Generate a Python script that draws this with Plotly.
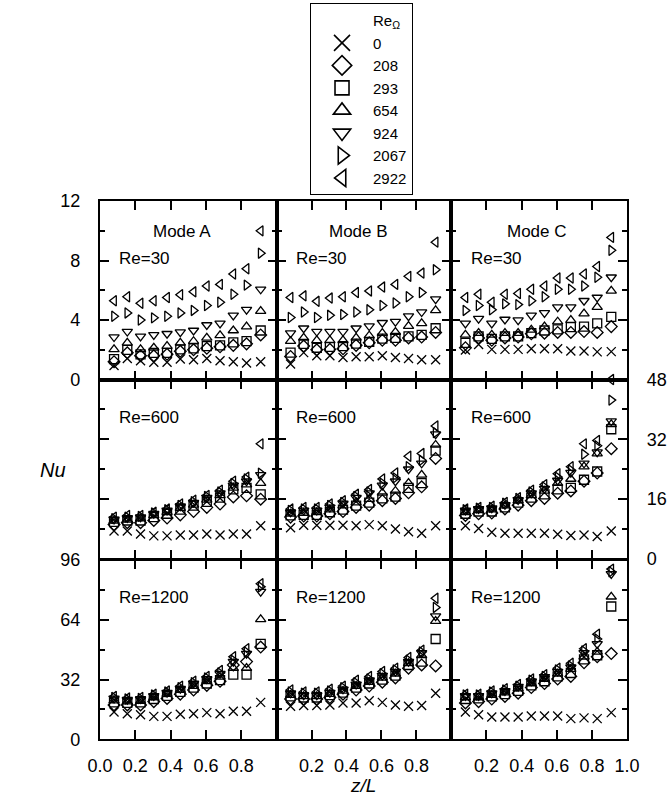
import plotly.graph_objects as go

W, H = 667, 803

# axial stations along the heated section
Z_OVER_L = [0.08, 0.155, 0.23, 0.305, 0.38, 0.455, 0.53, 0.605, 0.68, 0.755, 0.83, 0.91]

# rotational Reynolds numbers (series order used in every Nu table below)
RE_OMEGA = ["0", "208", "293", "654", "924", "2067", "2922"]

# Nusselt number, Mode A / B / C, Re = 30
NU_A_RE30 = [
    [0.94, 1.42, 1.27, 1.16, 1.16, 1.38, 1.33, 1.42, 1.27, 1.2, 1.11, 1.2],
    [1.2, 1.8, 1.6, 1.6, 1.7, 1.9, 2.0, 2.1, 2.2, 2.3, 2.4, 3.0],
    [1.38, 2.0, 1.7, 1.8, 1.8, 2.03, 2.1, 2.25, 2.3, 2.5, 2.58, 3.3],
    [2.03, 2.47, 2.03, 2.14, 2.25, 2.47, 2.58, 2.8, 2.97, 3.3, 3.56, 4.6],
    [2.86, 3.23, 2.9, 3.0, 3.08, 3.19, 3.3, 3.67, 3.78, 4.32, 4.7, 6.07],
    [4.26, 4.48, 4.0, 4.15, 4.26, 4.48, 4.65, 4.98, 5.2, 5.74, 6.35, 8.5],
    [5.3, 5.57, 5.13, 5.3, 5.52, 5.7, 5.9, 6.29, 6.4, 7.1, 7.45, 10.0],
]
NU_B_RE30 = [
    [1.05, 1.81, 1.6, 1.6, 1.48, 1.53, 1.53, 1.6, 1.48, 1.42, 1.33, 1.33],
    [1.55, 2.25, 2.0, 2.03, 2.07, 2.3, 2.47, 2.64, 2.64, 2.8, 2.86, 3.17],
    [1.81, 2.4, 2.14, 2.2, 2.25, 2.42, 2.53, 2.75, 2.8, 2.9, 3.0, 3.45],
    [2.58, 2.8, 2.64, 2.64, 2.64, 2.8, 2.95, 3.12, 3.19, 3.6, 3.78, 4.65],
    [3.12, 3.45, 3.23, 3.23, 3.23, 3.45, 3.6, 3.82, 3.89, 4.26, 4.54, 5.41],
    [4.17, 4.54, 4.17, 4.32, 4.37, 4.54, 4.69, 4.98, 5.15, 5.57, 5.85, 7.38],
    [5.52, 5.63, 5.26, 5.48, 5.57, 5.85, 5.96, 6.22, 6.4, 6.94, 7.16, 9.24],
]
NU_C_RE30 = [
    [1.99, 2.36, 2.03, 2.03, 2.03, 2.07, 2.07, 2.07, 1.92, 1.92, 1.86, 1.88],
    [2.14, 2.8, 2.64, 2.8, 2.86, 3.08, 3.12, 3.17, 3.17, 3.23, 3.17, 3.56],
    [2.47, 2.9, 2.73, 2.9, 2.9, 3.12, 3.3, 3.38, 3.52, 3.56, 3.78, 4.21],
    [3.01, 3.12, 3.01, 3.12, 3.12, 3.34, 3.56, 3.89, 4.0, 4.43, 4.87, 5.96],
    [3.78, 4.1, 3.78, 4.04, 4.0, 4.32, 4.48, 4.87, 4.87, 5.3, 5.52, 6.88],
    [4.65, 4.98, 4.69, 5.09, 5.04, 5.3, 5.57, 6.07, 6.07, 6.29, 6.88, 8.69],
    [5.52, 5.74, 5.2, 5.74, 5.79, 6.07, 6.29, 6.83, 6.83, 7.1, 7.6, 9.56],
]

# Nusselt number, Mode A / B / C, Re = 600
NU_A_RE600 = [
    [7.48, 7.48, 6.7, 6.17, 6.17, 6.43, 6.43, 6.7, 6.43, 6.7, 6.7, 8.87],
    [9.2, 9.7, 9.7, 10.3, 10.96, 11.8, 12.7, 13.8, 14.7, 16.6, 16.9, 16.0],
    [9.9, 10.3, 10.3, 11.2, 12.1, 13.2, 14.3, 15.3, 16.4, 18.6, 19.0, 17.3],
    [10.2, 10.5, 10.8, 11.65, 12.5, 13.6, 14.5, 15.8, 17.0, 19.0, 19.9, 20.3],
    [10.6, 10.96, 11.2, 12.1, 13.0, 14.1, 15.1, 16.4, 17.6, 19.7, 20.8, 22.5],
    [10.8, 11.2, 11.4, 12.3, 13.2, 14.3, 15.3, 16.7, 17.9, 20.2, 21.4, 22.96],
    [11.2, 11.65, 11.65, 12.5, 13.4, 14.7, 15.7, 17.0, 18.4, 20.8, 21.9, 30.8],
]
NU_B_RE600 = [
    [8.35, 9.04, 9.04, 9.04, 9.04, 8.87, 9.2, 8.87, 8.0, 7.3, 6.87, 8.87],
    [11.2, 11.5, 11.5, 12.1, 12.7, 13.8, 14.4, 15.6, 16.2, 17.7, 19.3, 26.9],
    [11.65, 11.8, 11.8, 12.5, 13.2, 14.3, 15.1, 16.2, 16.7, 19.0, 20.3, 29.0],
    [12.1, 12.3, 12.5, 13.2, 14.3, 15.1, 16.0, 17.7, 18.2, 20.3, 22.5, 30.5],
    [12.5, 13.0, 13.0, 13.8, 14.9, 16.4, 17.6, 19.7, 20.8, 24.0, 25.6, 33.4],
    [13.0, 13.4, 13.4, 14.3, 15.1, 16.7, 17.9, 20.3, 21.7, 24.7, 26.4, 33.8],
    [13.4, 13.8, 13.8, 14.7, 15.6, 17.3, 18.6, 21.4, 23.0, 27.5, 28.2, 35.6],
]
NU_C_RE600 = [
    [8.87, 8.17, 7.13, 6.87, 6.87, 6.87, 6.87, 6.6, 6.26, 6.43, 6.0, 7.48],
    [11.65, 12.1, 12.3, 13.4, 14.4, 15.6, 16.2, 17.6, 18.2, 20.8, 23.0, 29.5],
    [12.1, 12.7, 12.7, 13.8, 15.1, 16.4, 17.3, 18.6, 19.0, 21.2, 23.4, 34.7],
    [12.5, 13.0, 13.2, 14.3, 15.6, 17.0, 18.2, 20.3, 21.4, 24.7, 28.2, 36.0],
    [13.0, 13.4, 13.6, 14.5, 15.8, 17.6, 18.8, 21.0, 23.1, 25.6, 28.6, 36.9],
    [13.2, 13.6, 13.8, 14.9, 16.2, 17.9, 19.3, 21.9, 23.8, 28.0, 30.3, 42.5],
    [13.4, 13.8, 14.1, 15.1, 16.4, 18.4, 19.9, 22.8, 24.7, 30.8, 31.7, 48.0],
]

# Nusselt number, Mode A / B / C, Re = 1200
NU_A_RE1200 = [
    [14.6, 13.7, 13.2, 12.3, 12.3, 13.4, 13.7, 14.3, 13.7, 15.0, 15.0, 19.8],
    [18.4, 18.4, 18.4, 20.2, 21.9, 24.2, 26.4, 28.9, 31.1, 39.8, 41.6, 49.4],
    [19.8, 19.5, 19.8, 21.6, 23.3, 25.4, 27.7, 29.9, 31.7, 34.6, 34.6, 51.1],
    [20.7, 20.2, 20.5, 22.4, 24.2, 26.4, 28.5, 31.1, 33.4, 38.1, 38.1, 64.2],
    [21.9, 21.2, 21.6, 23.3, 25.0, 27.1, 29.9, 32.3, 35.1, 41.6, 45.9, 79.0],
    [22.4, 21.6, 21.9, 23.7, 25.4, 27.7, 30.3, 32.9, 35.5, 42.4, 46.8, 81.6],
    [23.0, 22.1, 22.4, 24.2, 25.9, 28.5, 31.1, 33.7, 36.9, 44.2, 48.5, 83.3],
]
NU_B_RE1200 = [
    [17.7, 18.1, 18.1, 18.4, 19.5, 19.5, 20.7, 19.8, 18.4, 17.7, 18.1, 24.7],
    [21.6, 21.6, 21.6, 22.4, 24.2, 26.4, 28.5, 30.6, 32.9, 38.1, 39.8, 39.3],
    [23.0, 22.4, 22.4, 23.7, 25.0, 27.7, 29.9, 32.0, 34.1, 39.8, 41.6, 53.7],
    [23.7, 23.0, 23.0, 24.2, 25.9, 28.5, 30.6, 32.9, 35.1, 40.7, 45.0, 63.3],
    [24.7, 23.7, 23.7, 25.0, 26.8, 29.4, 31.7, 34.1, 36.3, 41.6, 46.3, 65.9],
    [25.4, 24.7, 24.7, 25.9, 27.7, 30.3, 32.3, 35.1, 37.2, 42.4, 46.8, 70.6],
    [26.4, 25.4, 25.4, 26.8, 28.5, 31.7, 33.7, 36.3, 38.1, 43.8, 47.7, 75.5],
]
NU_C_RE1200 = [
    [14.6, 13.2, 12.0, 12.0, 12.0, 12.5, 12.5, 12.5, 11.1, 11.5, 11.1, 14.3],
    [19.5, 20.2, 21.6, 23.0, 24.7, 27.7, 29.9, 32.3, 33.7, 41.0, 44.2, 45.9],
    [21.6, 21.9, 23.0, 24.2, 25.9, 28.9, 31.1, 33.7, 35.5, 42.8, 45.0, 71.1],
    [22.4, 22.4, 23.7, 25.0, 27.1, 29.9, 32.3, 35.1, 37.6, 44.2, 46.8, 76.3],
    [23.3, 23.3, 24.7, 25.9, 28.2, 31.1, 33.4, 36.3, 38.6, 46.3, 51.1, 88.5],
    [23.7, 23.7, 25.4, 26.4, 28.5, 31.7, 33.7, 37.2, 39.3, 47.3, 53.7, 89.7],
    [24.2, 24.2, 25.9, 27.1, 29.4, 32.3, 34.6, 38.1, 40.7, 48.5, 56.3, 91.1],
]

MODES = ["Mode A", "Mode B", "Mode C"]
RE_ROWS = ["Re=30", "Re=600", "Re=1200"]
PANELS = [
    [NU_A_RE30, NU_B_RE30, NU_C_RE30],
    [NU_A_RE600, NU_B_RE600, NU_C_RE600],
    [NU_A_RE1200, NU_B_RE1200, NU_C_RE1200],
]
Y_MAX = [12, 48, 96]
Y_MAJOR = [4, 16, 32]
Y_MINOR = [2, 8, 16]

# drawing styles
SYMBOLS = ["x-thin-open", "diamond-open", "square-open", "triangle-up-open",
           "triangle-down-open", "triangle-right-open", "triangle-left-open"]
LEGEND_SIZES = [17, 15, 14, 15, 15, 15, 15]
FONT = "Liberation Sans, Arial, Helvetica, sans-serif"
COL_PX = [(91, 276), (276, 459), (459, 643)]
ROW_PX = [(196, 379), (379, 563), (564, 748)]


def px_x(p):
    return p / W


def px_y(p):
    return 1 - p / H


fig = go.Figure()
layout = {}

for r in range(3):
    for c in range(3):
        k = r * 3 + c + 1
        xa = "x" if k == 1 else f"x{k}"
        ya = "y" if k == 1 else f"y{k}"
        xname = "xaxis" if k == 1 else f"xaxis{k}"
        yname = "yaxis" if k == 1 else f"yaxis{k}"

        for s, values in enumerate(PANELS[r][c]):
            fig.add_trace(go.Scatter(
                x=Z_OVER_L, y=values, mode="markers", xaxis=xa, yaxis=ya,
                showlegend=False, cliponaxis=False, hoverinfo="skip",
                marker=dict(symbol=SYMBOLS[s], size=9, color="black",
                            line=dict(color="black", width=1.3)),
            ))

        # x axis
        if r == 2:
            if c == 0:
                xt = [0.0, 0.2, 0.4, 0.6, 0.8]
            elif c == 1:
                xt = [0.2, 0.4, 0.6, 0.8]
            else:
                xt = [0.2, 0.4, 0.6, 0.8, 1.0]
            xlabels = True
        else:
            xt = [0.2, 0.4, 0.6, 0.8]
            xlabels = False
        layout[xname] = dict(
            domain=[px_x(COL_PX[c][0]), px_x(COL_PX[c][1])],
            anchor=ya, range=[0, 1], tickmode="array", tickvals=xt,
            ticktext=[f"{v:.1f}" for v in xt], showticklabels=xlabels,
            ticks="inside", ticklen=9, tickwidth=1.5, tickcolor="black",
            showline=True, linewidth=2, linecolor="black", mirror="ticks",
            showgrid=False, zeroline=False, fixedrange=True,
            ticklabelstandoff=9,
            tickfont=dict(family=FONT, size=18, color="black"),
        )

        # y axis
        ylabels = (c == 0 and r != 1) or (c == 2 and r == 1)
        layout[yname] = dict(
            domain=[px_y(ROW_PX[r][1]), px_y(ROW_PX[r][0])],
            anchor=xa, range=[0, Y_MAX[r]], tickmode="linear", tick0=0,
            dtick=Y_MAJOR[r], showticklabels=ylabels,
            side="right" if (c == 2 and r == 1) else "left",
            ticks="inside", ticklen=9, tickwidth=1.5, tickcolor="black",
            minor=dict(dtick=Y_MINOR[r], ticks="inside", ticklen=5,
                       tickwidth=1.5, tickcolor="black", showgrid=False),
            showline=True, linewidth=2, linecolor="black", mirror="ticks",
            showgrid=False, zeroline=False, fixedrange=True,
            ticklabelstandoff=14,
            tickfont=dict(family=FONT, size=18, color="black"),
        )

# legend: a heading row (no symbol) followed by one row per series
fig.add_trace(go.Scatter(
    x=[None], y=[None], mode="markers", name="Re<sub>Ω</sub>",
    showlegend=True,
    marker=dict(size=1, opacity=0, color="rgba(0,0,0,0)",
                line=dict(width=0, color="rgba(0,0,0,0)")),
))
for s, name in enumerate(RE_OMEGA):
    fig.add_trace(go.Scatter(
        x=[None], y=[None], mode="markers", name=name, showlegend=True,
        marker=dict(symbol=SYMBOLS[s], size=LEGEND_SIZES[s], color="black",
                    line=dict(color="black", width=1.6)),
    ))

annotations = []
mode_centers = [177, 362, 549]
for c in range(3):
    annotations.append(dict(
        text=MODES[c], x=px_x(mode_centers[c]), y=px_y(227),
        xref="paper", yref="paper", xanchor="center", yanchor="middle",
        showarrow=False, font=dict(family=FONT, size=17, color="black")))
re_y = [255, 418, 602]
for r in range(3):
    for c in range(3):
        annotations.append(dict(
            text=RE_ROWS[r], x=px_x(COL_PX[c][0] + 18), y=px_y(re_y[r]),
            xref="paper", yref="paper", xanchor="left", yanchor="middle",
            showarrow=False, font=dict(family=FONT, size=17, color="black")))
annotations.append(dict(
    text="<i>Nu</i>", x=px_x(42), y=px_y(472), xref="paper", yref="paper",
    xanchor="center", yanchor="middle", showarrow=False,
    font=dict(family=FONT, size=20, color="black")))
annotations.append(dict(
    text="<i>z/L</i>", x=px_x(367), y=px_y(791), xref="paper", yref="paper",
    xanchor="center", yanchor="middle", showarrow=False, yshift=-4,
    font=dict(family=FONT, size=19, color="black")))

fig.update_layout(
    width=W, height=H, margin=dict(l=0, r=0, t=0, b=0),
    paper_bgcolor="white", plot_bgcolor="white",
    showlegend=True,
    legend=dict(
        x=px_x(311), y=1 + 7 / H, xanchor="left", yanchor="top",
        bordercolor="black", borderwidth=1, bgcolor="white",
        font=dict(family=FONT, size=15, color="black"),
        itemwidth=52, tracegroupgap=0, traceorder="normal",
    ),
    annotations=annotations,
    **layout,
)

fig.write_html("out.html")
